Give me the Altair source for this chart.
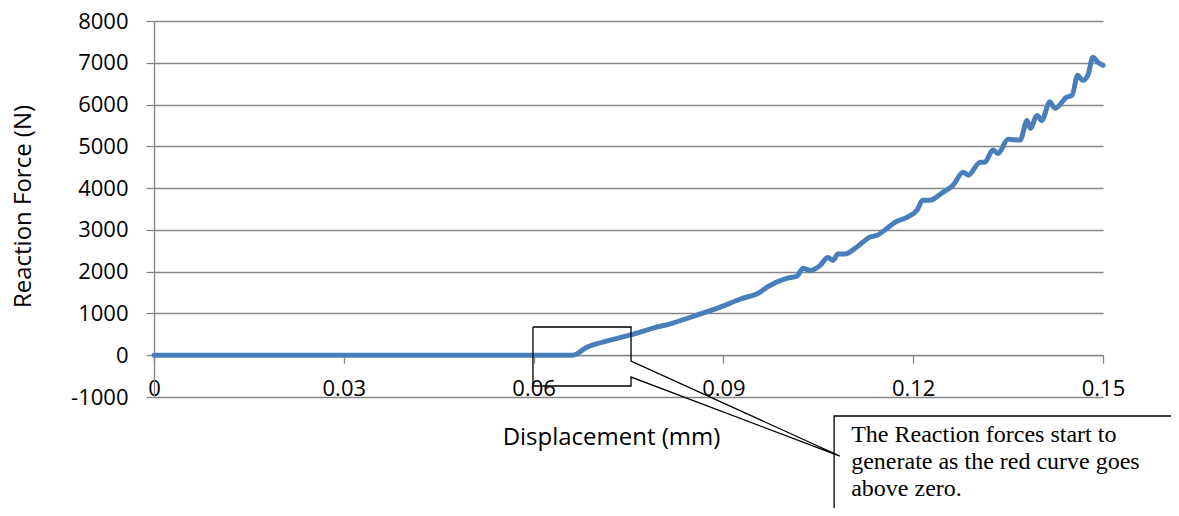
import altair as alt
import pandas as pd

# ---- data ----
disp = [0, 0.0662, 0.0684, 0.0721, 0.0752, 0.0789, 0.0820, 0.0858, 0.0895, 0.0926,
        0.0958, 0.0969, 0.1000, 0.1016, 0.1026, 0.1037, 0.1053, 0.1065, 0.1073, 0.1081,
        0.1092, 0.1111, 0.1132, 0.1143, 0.1159, 0.1171, 0.1190, 0.1206, 0.1215, 0.1226,
        0.1247, 0.1263, 0.1279, 0.1287, 0.1306, 0.1313, 0.1326, 0.1334, 0.1350, 0.1369,
        0.1380, 0.1385, 0.1396, 0.1403, 0.1416, 0.1424, 0.1443, 0.1451, 0.1460, 0.1468,
        0.1476, 0.1484, 0.1492, 0.1500]
force = [0, 0, 190, 360, 480, 650, 770, 960, 1150, 1340,
         1510, 1630, 1840, 1890, 2080, 2030, 2150, 2340, 2270, 2420,
         2420, 2590, 2830, 2870, 3040, 3180, 3300, 3470, 3710, 3710,
         3900, 4070, 4380, 4310, 4620, 4620, 4910, 4830, 5170, 5150,
         5620, 5430, 5740, 5620, 6060, 5910, 6180, 6220, 6700, 6580,
         6700, 7130, 7010, 6940]

x_ticks = [0, 0.03, 0.06, 0.09, 0.12, 0.15]
y_ticks = [-1000, 0, 1000, 2000, 3000, 4000, 5000, 6000, 7000, 8000]

# callout outline (data units)
callout_x = [0.0599, 0.0754, 0.0754, 0.1084, 0.0754, 0.0754, 0.0599, 0.0599]
callout_y = [675, 675, -139, -2413, -522, -737, -737, 675]

# text box (data units)
box_x = [0.1075]
box_x2 = [0.1800]
box_y = [-1455]
box_y2 = [-4200]
note_x = [0.1102]
note_y = [-2078]
note_text = ["The Reaction forces start to\ngenerate as the red curve goes\nabove zero."]

W, H = 949, 376
GRID = "#868686"

df = pd.DataFrame({"x": disp, "y": force})
df_call = pd.DataFrame({"x": callout_x, "y": callout_y, "o": list(range(len(callout_x)))})
df_box = pd.DataFrame({"x": box_x, "x2": box_x2, "y": box_y, "y2": box_y2})
df_note = pd.DataFrame({"x": note_x, "y": note_y, "t": note_text})

xscale = alt.Scale(domain=[0, 0.15], nice=False, zero=False)
yscale = alt.Scale(domain=[-1000, 8000], nice=False, zero=False)

xaxis = alt.Axis(
    values=x_ticks, labelExpr="'' + datum.value", orient="bottom",
    offset=-H / 9.0, grid=False,
    domainColor=GRID, domainWidth=1.3, tickColor=GRID, tickWidth=1.3, tickSize=8,
    labelFont="Open Sans", labelFontSize=22, labelColor="black",
    labelBaseline="alphabetic", labelPadding=32, labelFlush=False,
    labelOverlap=False, labelBound=False,
    title="Displacement (mm)", titleFont="Open Sans", titleFontSize=24,
    titleFontWeight="normal", titleColor="black",
    titleX=457, titleY=82, titleBaseline="middle", titleAlign="center",
)
yaxis = alt.Axis(
    values=y_ticks, labelExpr="'' + datum.value", orient="left",
    grid=True, gridColor=GRID, gridWidth=1.3,
    domainColor=GRID, domainWidth=1.3, tickColor=GRID, tickWidth=1.3, tickSize=8,
    labelFont="Open Sans", labelFontSize=22, labelColor="black", labelPadding=18,
    labelOverlap=False, labelBound=False, labelFlush=False,
    title="Reaction Force (N)", titleFont="Open Sans", titleFontSize=24,
    titleFontWeight="normal", titleColor="black",
    titleX=-131, titleY=185, titleBaseline="middle", titleAlign="center", titleAngle=270,
)

X = alt.X("x:Q", scale=xscale, axis=xaxis)
Y = alt.Y("y:Q", scale=yscale, axis=yaxis)

curve = alt.Chart(df).mark_line(
    color="#4a7ebb", strokeWidth=5, interpolate="monotone", strokeCap="round"
).encode(x=X, y=Y)

box = alt.Chart(df_box).mark_rect(
    fill="white", stroke="black", strokeWidth=1.3
).encode(x=X, x2="x2:Q", y=Y, y2="y2:Q")

callout = alt.Chart(df_call).mark_line(
    color="black", strokeWidth=1.3
).encode(x=X, y=Y, order="o:Q")

note = alt.Chart(df_note).mark_text(
    align="left", baseline="alphabetic", font="Liberation Serif", fontSize=24,
    lineBreak="\n", lineHeight=27, color="black"
).encode(x=X, y=Y, text="t:N")

chart = alt.layer(curve, box, callout, note).properties(
    width=W, height=H,
    padding={"left": 146, "top": 13, "right": 68, "bottom": 111},
    autosize=alt.AutoSizeParams(type="none"),
).configure_view(stroke=None)

chart.save("out.html", embed_options={"renderer": "svg", "actions": False})
